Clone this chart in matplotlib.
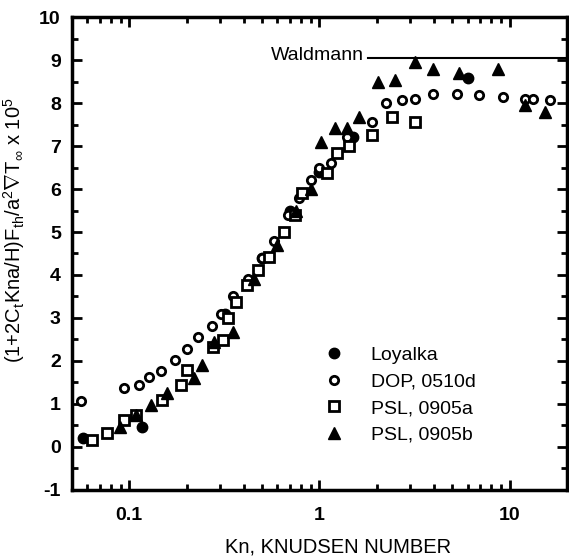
import numpy as np
import matplotlib
matplotlib.use("Agg")
import matplotlib.pyplot as plt
from matplotlib.ticker import LogLocator, MultipleLocator, FixedLocator

plt.rcParams['font.family'] = ['Liberation Sans', 'DejaVu Sans']
plt.rcParams['mathtext.fontset'] = 'custom'
plt.rcParams['mathtext.rm'] = 'Liberation Sans'
plt.rcParams['mathtext.it'] = 'Liberation Sans'
plt.rcParams['axes.unicode_minus'] = False

# Datos
loy_kn = [0.057, 0.116, 0.32, 0.5, 0.7, 1.0, 1.5, 6.0]
loy_y = [0.21, 0.47, 3.1, 4.4, 5.5, 6.4, 7.2, 8.58]

dop_kn = [0.056, 0.094, 0.113, 0.127, 0.147, 0.174, 0.202, 0.23, 0.273, 0.305,
          0.35, 0.42, 0.5, 0.58, 0.68, 0.78, 0.9, 1.0, 1.15, 1.4, 1.88,
          2.25, 2.7, 3.16, 3.97, 5.27, 6.86, 9.2, 12.0, 13.3, 16.2]
dop_y = [1.07, 1.37, 1.44, 1.63, 1.77, 2.02, 2.28, 2.56, 2.81, 3.1,
         3.5, 3.9, 4.4, 4.8, 5.4, 5.8, 6.2, 6.5, 6.6, 7.2, 7.56,
         8.0, 8.07, 8.1, 8.2, 8.2, 8.19, 8.14, 8.1, 8.1, 8.07]

psla_kn = [0.064, 0.076, 0.094, 0.109, 0.149, 0.188, 0.2, 0.277, 0.31, 0.33,
           0.366, 0.417, 0.477, 0.54, 0.654, 0.74, 0.81, 1.1, 1.23, 1.43,
           1.88, 2.4, 3.16]
psla_y = [0.16, 0.33, 0.63, 0.74, 1.09, 1.44, 1.79, 2.33, 2.49, 3.0,
          3.37, 3.77, 4.12, 4.42, 5.0, 5.4, 5.9, 6.37, 6.84, 7.0,
          7.26, 7.67, 7.56]

pslb_kn = [0.089, 0.109, 0.13, 0.157, 0.22, 0.24, 0.28, 0.35, 0.45, 0.6,
           0.75, 0.9, 1.02, 1.2, 1.39, 1.62, 2.02, 2.5, 3.16, 3.97, 5.4,
           8.7, 12.0, 15.3]
pslb_y = [0.47, 0.74, 0.98, 1.26, 1.6, 1.91, 2.44, 2.67, 3.9, 4.7,
          5.5, 6.0, 7.09, 7.42, 7.42, 7.67, 8.49, 8.53, 8.95, 8.8, 8.7,
          8.8, 7.95, 7.8]

waldmann = 9.05

fig = plt.figure(figsize=(5.69, 5.58), dpi=100)
ax = fig.add_axes([0.1265, 0.1219, 0.87, 0.8476])

mew = 2.0
ax.plot(loy_kn, loy_y, 'o', color='black', ms=7.5, label='Loyalka')
ax.plot(dop_kn, dop_y, 'o', mfc='white', mec='black', ms=6, mew=mew, label='DOP, 0510d')
ax.plot(psla_kn, psla_y, 's', mfc='white', mec='black', ms=7.5, mew=mew, label='PSL, 0905a')
ax.plot(pslb_kn, pslb_y, '^', color='black', ms=9, label='PSL, 0905b')

ax.plot([1.79, 20], [waldmann, waldmann], color='black', lw=1.5)
ax.text(1.72, waldmann + 0.05, 'Waldmann', ha='right', va='center', fontsize=14)

ax.set_xscale('log')
ax.set_xlim(0.05, 20)
ax.set_ylim(-1, 10)
ax.xaxis.set_major_locator(FixedLocator([0.1, 1, 10]))
ax.xaxis.set_minor_locator(LogLocator(base=10, subs=np.arange(2, 10)))
ax.set_xticklabels(['0.1', '1', '10'])
ax.yaxis.set_major_locator(MultipleLocator(1))
ax.yaxis.set_minor_locator(MultipleLocator(0.5))

ax.tick_params(which='both', direction='in', top=True, right=True, labelsize=14, width=2)
ax.tick_params(which='major', length=7, pad=8)
ax.tick_params(which='minor', length=4)
ax.tick_params(axis='x', which='major', pad=12)
for lab in ax.get_xticklabels() + ax.get_yticklabels():
    lab.set_fontweight('bold')
for s in ax.spines.values():
    s.set_linewidth(2.5)

ax.set_xlabel('Kn, KNUDSEN NUMBER', fontsize=14.5)
ax.xaxis.set_label_coords(0.537, -0.1)
ax.set_ylabel(r'(1+2C$_\mathregular{t}$Kna/H)F$_\mathregular{th}$/a$^\mathregular{2}$$\nabla$T$_\infty$ x 10$^\mathregular{5}$',
              fontsize=14.5, labelpad=4)
ax.yaxis.set_label_coords(-0.09, 0.55)

ax.legend(loc='upper left', bbox_to_anchor=(0.47, 0.34), frameon=False, fontsize=14,
          handletextpad=1.3, labelspacing=0.45, handlelength=1.2)

fig.savefig('out.png', dpi=100)
